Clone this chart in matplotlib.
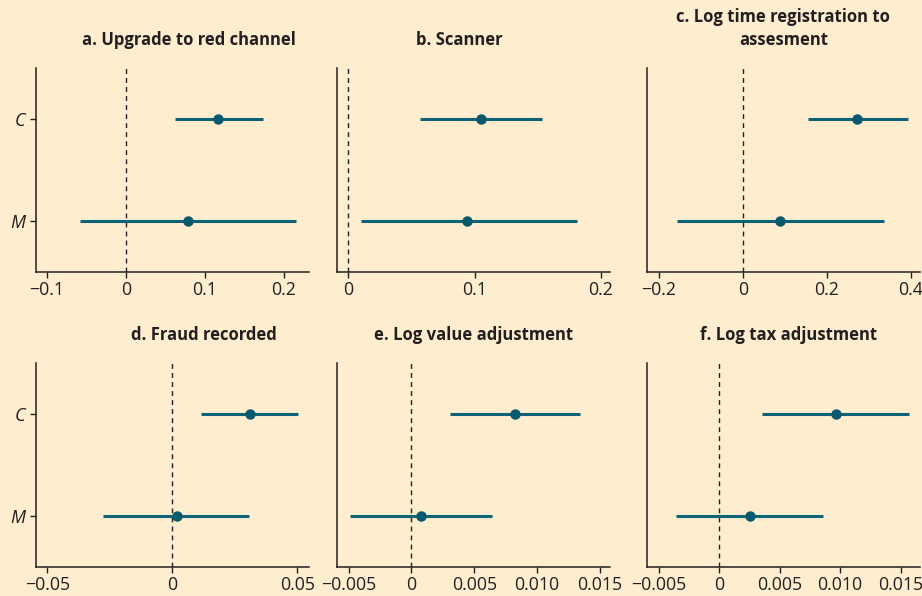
import matplotlib
matplotlib.use("Agg")
import matplotlib.pyplot as plt

plt.rcParams['font.family'] = ['Open Sans', 'DejaVu Sans']

groups = ["M", "C"]

titles = ["a. Upgrade to red channel", "b. Scanner", "c. Log time registration to\nassesment",
          "d. Fraud recorded", "e. Log value adjustment", "f. Log tax adjustment"]

# estimates and 95% CI, order (M, C)
est_a = [0.079, 0.117]
lo_a = [-0.058, 0.062]
hi_a = [0.216, 0.174]

est_b = [0.094, 0.105]
lo_b = [0.010, 0.057]
hi_b = [0.181, 0.153]

est_c = [0.088, 0.271]
lo_c = [-0.156, 0.154]
hi_c = [0.336, 0.392]

est_d = [0.0017, 0.0309]
lo_d = [-0.0276, 0.0116]
hi_d = [0.0306, 0.0504]

est_e = [0.00077, 0.00823]
lo_e = [-0.00487, 0.0031]
hi_e = [0.0064, 0.0134]

est_f = [0.00259, 0.00964]
lo_f = [-0.00358, 0.00355]
hi_f = [0.0086, 0.0157]

ticks_a = [-0.1, 0, 0.1, 0.2]
labels_a = ["\u22120.1", "0", "0.1", "0.2"]
ticks_b = [0, 0.1, 0.2]
labels_b = ["0", "0.1", "0.2"]
ticks_c = [-0.2, 0, 0.2, 0.4]
labels_c = ["\u22120.2", "0", "0.2", "0.4"]
ticks_d = [-0.05, 0, 0.05]
labels_d = ["\u22120.05", "0", "0.05"]
ticks_ef = [-0.005, 0, 0.005, 0.010, 0.015]
labels_ef = ["\u22120.005", "0", "0.005", "0.010", "0.015"]

panels = [
    (est_a, lo_a, hi_a, ticks_a, labels_a, (-0.114, 0.232)),
    (est_b, lo_b, hi_b, ticks_b, labels_b, (-0.0087, 0.207)),
    (est_c, lo_c, hi_c, ticks_c, labels_c, (-0.228, 0.421)),
    (est_d, lo_d, hi_d, ticks_d, labels_d, (-0.0546, 0.0546)),
    (est_e, lo_e, hi_e, ticks_ef, labels_ef, (-0.00592, 0.0158)),
    (est_f, lo_f, hi_f, ticks_ef, labels_ef, (-0.00596, 0.0166)),
]

bg = "#FEEDCF"
teal = "#0E6277"
ink = "#231F20"

fig = plt.figure(figsize=(9.22, 5.96), dpi=100, facecolor=bg)

lefts = [0.039, 0.3655, 0.7017]
bottoms = [0.5436, 0.0487]
w, h = 0.296, 0.342
title_x = [0.56, 0.45, 0.5, 0.615, 0.5, 0.52]

for i, (est, lo, hi, ticks, labels, xlim) in enumerate(panels):
    ax = fig.add_axes([lefts[i % 3], bottoms[i // 3], w, h])
    ax.set_facecolor(bg)
    ypos = range(len(groups))
    ax.axvline(0, color=ink, lw=1, ls=(0, (3.5, 3)), zorder=1)
    ax.hlines(ypos, lo, hi, color=teal, lw=2.2, zorder=2)
    ax.plot(est, ypos, 'o', color="#07596E", ms=6.5, zorder=3)
    ax.set_xlim(*xlim)
    ax.set_ylim(-0.5, 1.5)
    ax.set_xticks(ticks)
    ax.set_xticklabels(labels, fontsize=12.8)
    for s in ["top", "right"]:
        ax.spines[s].set_visible(False)
    for s in ["left", "bottom"]:
        ax.spines[s].set_color(ink)
        ax.spines[s].set_linewidth(1.1)
    ax.tick_params(axis='x', length=4.5, width=1, colors=ink, pad=2)
    if i % 3 == 0:
        ax.set_yticks(list(ypos))
        ax.set_yticklabels(groups, fontstyle='italic', fontsize=13)
        ax.tick_params(axis='y', length=4.5, width=1, colors=ink, pad=3)
    else:
        ax.set_yticks([])
    ax.set_title(titles[i], x=title_x[i], fontsize=12, fontweight='bold', color=ink,
                 pad=17, linespacing=1.3)

fig.savefig("out.png", dpi=100, facecolor=bg)
